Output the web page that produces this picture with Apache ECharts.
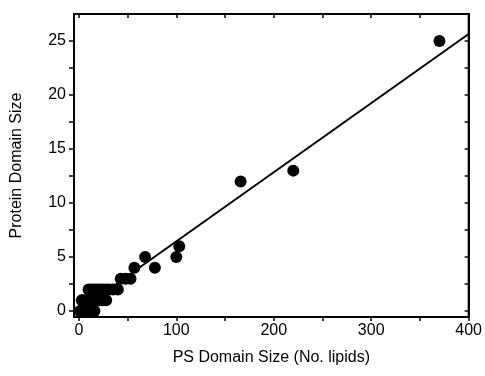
<!DOCTYPE html>
<html>
<head>
<meta charset="utf-8">
<script src="https://cdn.jsdelivr.net/npm/echarts@6/dist/echarts.min.js"></script>
<style>
  html, body { margin: 0; padding: 0; background: #fff; }
  #chart { width: 485px; height: 376px; }
</style>
</head>
<body>
<div id="chart"></div>
<script>
// PS domain size (no. lipids) vs protein domain size
var psSize = [1, 3, 5, 8, 10, 13, 16,
  3, 5, 8, 10, 12, 15, 18, 21, 24, 28,
  10, 13, 16, 19, 22, 25, 28, 31, 35, 40,
  43, 48, 53,
  57, 78,
  68, 100,
  103, 166, 220, 370];
var proteinSize = [0, 0, 0, 0, 0, 0, 0,
  1, 1, 1, 1, 1, 1, 1, 1, 1, 1,
  2, 2, 2, 2, 2, 2, 2, 2, 2, 2,
  3, 3, 3,
  4, 4,
  5, 5,
  6, 12, 13, 25];
// linear fit end points
var fitX = [0, 400];
var fitY = [0.05, 25.65];

var xLabels = [0, 100, 200, 300, 400];
var xTicks = [0, 50, 100, 150, 200, 250, 300, 350, 400];
var yLabels = [0, 5, 10, 15, 20, 25];
var yTicks = [0, 2.5, 5, 7.5, 10, 12.5, 15, 17.5, 20, 22.5, 25];

var points = psSize.map(function (x, i) { return [x, proteinSize[i]]; });
var fitLine = fitX.map(function (x, i) { return [x, fitY[i]]; });

var chart = echarts.init(document.getElementById('chart'), null, { renderer: 'canvas' });

var font = 'Liberation Sans, Arial, sans-serif';
var xMin = -5, xMax = 400, yMin = -0.55, yMax = 27.5;

var option = {
  backgroundColor: '#ffffff',
  animation: false,
  grid: {
    left: 74, right: 16, top: 14, bottom: 59,
    show: true, borderColor: '#000', borderWidth: 2, backgroundColor: 'transparent'
  },
  xAxis: [{
    type: 'value', position: 'bottom', min: xMin, max: xMax,
    name: 'PS Domain Size (No. lipids)', nameLocation: 'middle', nameGap: 33,
    nameTextStyle: { color: '#000', fontSize: 16, fontFamily: font },
    axisLine: { show: true, onZero: false, lineStyle: { color: '#000', width: 2 } },
    axisTick: { show: true, inside: false, length: 4, customValues: xTicks, lineStyle: { color: '#000', width: 1.5 } },
    axisLabel: { color: '#000', fontSize: 16, fontFamily: font, margin: 6, customValues: xLabels },
    splitLine: { show: false }
  }, {
    type: 'value', position: 'top', min: xMin, max: xMax,
    axisLine: { show: true, onZero: false, lineStyle: { color: '#000', width: 2 } },
    axisTick: { show: true, inside: true, length: 4, customValues: xTicks, lineStyle: { color: '#000', width: 1.5 } },
    axisLabel: { show: false },
    splitLine: { show: false }
  }],
  yAxis: [{
    type: 'value', position: 'left', min: yMin, max: yMax,
    name: 'Protein Domain Size', nameLocation: 'middle', nameGap: 49,
    nameTextStyle: { color: '#000', fontSize: 16, fontFamily: font },
    axisLine: { show: true, onZero: false, lineStyle: { color: '#000', width: 2 } },
    axisTick: { show: true, inside: false, length: 5, customValues: yTicks, lineStyle: { color: '#000', width: 1.5 } },
    axisLabel: { color: '#000', fontSize: 16, fontFamily: font, margin: 8, customValues: yLabels },
    splitLine: { show: false }
  }, {
    type: 'value', position: 'right', min: yMin, max: yMax,
    axisLine: { show: true, onZero: false, lineStyle: { color: '#000', width: 2 } },
    axisTick: { show: true, inside: true, length: 4, customValues: yTicks, lineStyle: { color: '#000', width: 1.5 } },
    axisLabel: { show: false },
    splitLine: { show: false }
  }],
  series: [{
    type: 'line',
    data: fitLine,
    showSymbol: false,
    symbol: 'none',
    lineStyle: { color: '#000', width: 2 },
    z: 3
  }, {
    type: 'scatter',
    data: points,
    symbol: 'circle',
    symbolSize: 12,
    itemStyle: { color: '#000', opacity: 1 },
    z: 4
  }]
};

chart.setOption(option);
</script>
</body>
</html>
